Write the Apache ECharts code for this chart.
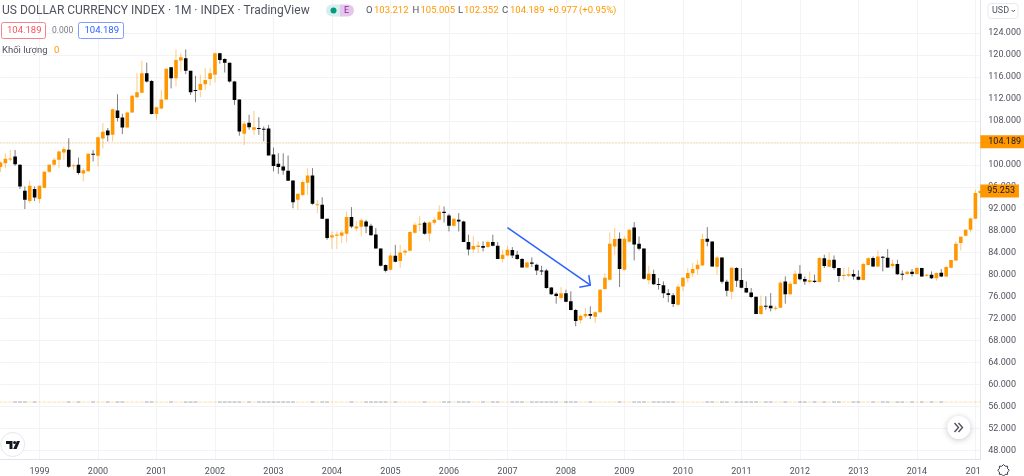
<!DOCTYPE html>
<html lang="en">
<head>
<meta charset="utf-8">
<title>US Dollar Currency Index</title>
<style>
html, body { margin: 0; padding: 0; background: #fff; overflow: hidden; }
#main { width: 1024px; height: 476px; }
</style>
<script src="https://cdn.jsdelivr.net/npm/echarts@6/dist/echarts.min.js"></script>
</head>
<body>
<div id="main"></div>
<script>
// monthly candles, May 1998 - Feb 2015
var opens = [
  99.58,100.3,101.0,101.5,100.0,95.3,93.4,95.6,93.76,95.82,
  98.73,100.0,100.9,102.25,102.73,99.8,100.0,98.43,98.85,102.0,
  101.64,104.8,106.25,105.45,109.9,108.6,106.8,109.5,112.3,113.1,
  116.67,115.27,109.27,110.25,111.9,117.76,115.76,118.97,119.4,117.1,
  113.6,113.64,114.67,115.6,116.4,120.3,119.27,118.6,115.15,111.9,
  105.64,107.64,106.36,106.7,106.55,106.6,101.88,100.18,99.7,98.9,
  97.15,93.64,94.5,96.73,98.06,92.7,92.72,90.18,86.78,87.09,
  87.09,87.45,90.48,88.42,88.72,89.69,88.9,87.33,84.78,81.75,
  80.9,83.45,82.48,84.06,84.36,87.63,89.09,89.45,87.51,89.45,
  90.0,91.45,90.78,88.9,90.0,89.69,85.93,84.6,85.03,85.21,
  85.03,85.93,85.27,82.84,83.51,84.48,83.63,82.84,81.33,82.24,
  81.81,80.78,80.78,77.69,76.54,75.75,76.6,75.15,73.57,71.69,
  72.42,72.84,72.36,73.15,77.39,79.09,85.15,86.54,80.9,85.99,
  88.6,85.63,84.78,78.97,80.12,78.3,78.06,76.6,76.24,74.54,
  77.87,79.33,80.24,80.97,81.69,86.54,86.06,81.45,83.15,78.73,
  76.9,81.21,79.03,77.57,76.78,75.99,72.85,74.36,74.36,73.87,
  74.0,78.78,76.42,78.3,80.18,79.21,78.66,78.9,78.66,82.97,
  81.45,82.72,81.21,79.81,79.81,80.12,79.63,79.03,81.75,83.03,
  81.51,83.27,83.09,81.57,81.94,80.18,80.12,80.54,80.12,81.21,
  79.81,79.99,79.33,80.36,79.69,81.27,82.6,85.75,87.09,88.18,
  90.18,94.85
];
var closes = [
  100.43,101.09,101.15,100.1,96.06,93.64,96.2,94.06,96.2,98.73,
  100.0,100.9,102.43,102.9,99.64,99.9,98.5,99.03,102.0,101.85,
  105.03,106.0,105.4,110.1,108.5,106.8,109.5,112.55,113.2,116.67,
  115.15,109.27,110.5,111.9,117.5,115.76,119.1,119.6,117.1,113.2,
  113.45,114.73,115.45,116.67,120.3,119.1,118.6,115.15,111.8,106.06,
  107.46,106.85,106.85,106.5,106.36,101.7,99.8,99.58,98.97,97.1,
  93.2,94.73,96.85,98.06,92.9,92.8,90.18,86.66,87.2,87.33,
  87.7,90.48,88.78,88.78,89.93,88.78,87.2,84.78,81.63,80.72,
  83.51,82.36,84.06,84.36,87.75,89.09,89.27,87.45,89.51,90.0,
  91.45,91.21,88.9,90.18,89.69,85.93,84.6,85.21,85.33,84.9,
  85.93,85.27,82.84,83.63,84.54,83.51,82.84,81.33,82.24,82.0,
  80.78,80.66,77.57,76.42,76.12,76.6,75.09,73.57,71.57,72.54,
  72.84,72.54,73.15,77.27,79.45,85.63,86.48,81.03,86.54,88.18,
  85.51,84.72,79.27,80.18,78.24,78.12,76.6,76.3,74.66,77.81,
  79.45,80.3,81.03,81.81,86.48,86.0,81.51,83.15,78.73,77.09,
  81.27,78.9,77.63,76.78,75.94,72.85,74.36,74.24,73.87,74.0,
  78.54,76.42,78.36,80.18,79.15,78.78,78.97,78.66,83.03,81.57,
  82.72,81.21,79.75,79.93,80.06,79.69,79.09,81.94,82.97,81.51,
  83.33,83.09,81.33,82.0,80.06,80.06,80.54,80.12,81.21,79.69,
  79.99,79.33,80.3,79.69,81.39,82.66,85.63,86.9,88.18,90.24,
  94.85,95.253
];
var lows = [
  98.7,99.4,100.6,99.8,95.6,91.95,93.0,93.4,93.0,95.7,
  98.5,99.7,99.4,100.9,99.4,99.1,98.2,97.0,98.7,100.6,
  99.7,102.97,104.25,104.25,107.9,105.6,106.67,109.4,112.1,113.03,
  114.97,109.15,108.2,110.1,111.8,113.9,114.25,117.0,116.5,112.7,
  111.4,112.3,113.64,114.4,115.0,118.4,116.8,114.97,110.9,105.3,
  103.6,106.4,105.45,105.45,104.25,101.7,98.8,98.36,98.2,97.1,
  92.1,91.8,94.25,94.5,92.73,91.2,90.1,86.36,84.66,84.66,
  85.75,85.9,88.48,87.9,86.96,87.57,87.09,84.78,81.5,80.42,
  80.78,82.24,81.21,83.45,84.24,87.45,87.87,87.27,86.06,89.09,
  89.87,89.51,87.87,88.78,87.87,85.93,83.51,83.93,83.93,84.24,
  84.84,85.15,82.84,82.24,83.33,83.03,82.72,81.27,81.21,81.39,
  79.93,79.93,77.45,76.3,74.72,75.45,74.97,73.51,70.6,71.09,
  72.12,71.93,71.21,73.15,77.27,78.96,83.63,77.75,80.78,85.87,
  82.6,84.42,79.09,78.24,78.12,77.27,75.75,74.97,74.12,74.24,
  76.97,78.6,79.57,80.0,81.63,85.15,81.39,80.0,78.36,76.06,
  75.57,77.75,77.51,76.66,75.75,72.85,72.72,73.63,73.33,73.51,
  74.0,74.72,76.3,78.12,78.97,78.18,78.48,78.48,78.6,81.21,
  81.33,80.9,78.66,78.97,79.57,79.09,78.97,78.97,81.63,81.39,
  81.39,80.6,81.21,81.21,79.94,78.97,79.94,79.69,80.0,79.63,
  79.57,79.21,78.9,79.57,79.63,81.15,82.54,84.42,86.97,87.69,
  90.12,94.6
];
var highs = [
  100.6,102.1,102.7,102.7,100.1,96.06,97.1,96.06,96.2,98.9,
  100.1,101.3,102.6,103.3,104.85,100.2,101.3,99.4,102.1,102.7,
  105.15,107.6,106.7,110.25,112.85,109.3,109.7,112.73,116.7,118.97,
  118.6,115.45,110.6,113.6,117.6,117.76,121.0,120.3,121.0,117.1,
  116.2,116.4,117.6,117.6,120.4,120.4,119.4,118.6,115.27,111.9,
  107.9,109.1,109.8,108.67,106.97,107.27,103.15,102.1,102.1,101.7,
  97.15,94.73,97.15,99.4,99.4,93.6,94.1,90.18,87.9,87.9,
  88.06,91.5,92.3,89.7,90.24,90.0,89.27,88.48,84.78,81.87,
  83.93,85.45,85.45,84.66,87.87,89.51,90.72,89.69,89.69,90.48,
  92.6,92.42,91.09,90.3,91.21,89.81,87.27,87.09,86.06,86.06,
  86.24,87.27,85.93,84.54,85.27,85.03,84.36,83.03,82.42,83.15,
  82.0,81.63,81.03,77.75,76.78,77.75,77.27,76.96,73.75,72.72,
  73.93,74.24,73.33,77.39,80.3,87.69,88.48,87.69,86.96,88.3,
  89.57,86.96,84.78,81.63,80.9,79.39,78.78,77.39,76.66,78.3,
  79.57,81.21,82.12,82.72,87.45,88.66,86.06,83.45,83.15,79.09,
  81.39,81.39,81.21,78.78,77.57,75.99,76.18,76.06,76.66,74.36,
  78.78,79.69,78.78,80.78,81.75,79.69,80.6,80.0,83.21,83.63,
  84.06,83.51,81.21,81.21,81.39,80.9,80.78,82.12,83.21,83.33,
  84.42,83.39,84.66,82.72,82.72,80.78,80.78,81.03,81.39,81.27,
  80.18,80.6,80.42,81.03,81.63,82.72,86.06,86.97,88.3,90.42,
  95.45,95.4
];
var priceTicks = [48,52,56,60,64,68,72,76,80,84,88,92,96,100,104,108,112,116,120,124];
var lastClose = 104.189;
var shownPrice = 95.253;
var volumeLevel = 56.82;   // the flat zero-volume strip sits here on the price scale
var arrowFrom = ['2007-01', 88.55];
var arrowTo = ['2008-06', 78.1];

var months = [];
for (var n = 0; n < opens.length; n++) {
  var mm = (n + 4) % 12 + 1;
  months.push((1998 + Math.floor((n + 4) / 12)) + '-' + (mm < 10 ? '0' + mm : mm));
}

var UP = '#ff9800', DOWN = '#000000';
var UP_WICK = 'rgba(255,152,0,0.5)', DOWN_WICK = 'rgba(0,0,0,0.5)';
var TEXT = '#50535e';
var FONT = 'Roboto, sans-serif';

function isJan(i) { return months[i].slice(5) === '01'; }

function renderCandle(params, api) {
  var i = api.value(0);
  var o = api.value(1), c = api.value(2);
  var x = api.coord([i, o])[0];
  var yO = api.coord([i, o])[1], yC = api.coord([i, c])[1];
  var yL = api.coord([i, api.value(3)])[1], yH = api.coord([i, api.value(4)])[1];
  var w = 3.6;
  var up = c >= o;
  var top = Math.min(yO, yC), h = Math.max(Math.abs(yO - yC), 1);
  return {
    type: 'group',
    children: [
      { type: 'line', shape: { x1: x, y1: yH, x2: x, y2: yL },
        style: { stroke: up ? UP_WICK : DOWN_WICK, lineWidth: 1 } },
      { type: 'rect', shape: { x: x - w / 2, y: top, width: w, height: h },
        style: { fill: up ? UP : DOWN } }
    ]
  };
}

function renderVolume(params, api) {
  var i = api.value(0);
  var p = api.coord([i, volumeLevel]);
  var seg = api.size([1, 0])[0] - 1;
  return {
    type: 'line',
    shape: { x1: p[0] - seg / 2, y1: p[1], x2: p[0] + seg / 2, y2: p[1] },
    style: { stroke: closes[i] >= opens[i] ? 'rgba(255,152,0,0.3)' : 'rgba(0,0,0,0.35)', lineWidth: 1 }
  };
}

function renderArrow(params, api) {
  var a = api.coord([months.indexOf(arrowFrom[0]), arrowFrom[1]]);
  var b = api.coord([months.indexOf(arrowTo[0]), arrowTo[1]]);
  var st = { stroke: '#2962ff', lineWidth: 1.5, fill: null };
  return {
    type: 'group',
    children: [
      { type: 'line', shape: { x1: a[0], y1: a[1], x2: b[0], y2: b[1] }, style: st },
      { type: 'polyline',
        shape: { points: [[b[0] - 1.5, b[1] - 10], [b[0], b[1]], [b[0] - 11, b[1] + 2.2]] },
        style: st }
    ]
  };
}

function txt(x, y, text, size, color) {
  return { type: 'text', z: 20,
    style: { x: x, y: y, text: text, fill: color, font: size + 'px ' + FONT, textVerticalAlign: 'middle' } };
}
function box(x, y, w, h, stroke, fill, r) {
  return { type: 'rect', z: 19, shape: { x: x, y: y, width: w, height: h, r: r },
    style: { stroke: stroke, fill: fill || '#fff', lineWidth: 1 } };
}

// gear outline bottom right
var gearPts = [];
for (var g = 0; g < 16; g++) {
  var ang = g / 16 * Math.PI * 2;
  var rad = g % 2 ? 4.4 : 5.8;
  gearPts.push([1003.5 + rad * Math.cos(ang), 470.3 + rad * Math.sin(ang)]);
}

var chartDom = document.getElementById('main');
var myChart = echarts.init(chartDom, null, { renderer: 'canvas' });

var option = {
  animation: false,
  backgroundColor: '#ffffff',
  textStyle: { fontFamily: FONT },
  grid: { left: 0.5, width: 979.9, top: 0, height: 460 },
  xAxis: {
    type: 'category',
    data: months,
    boundaryGap: false,
    axisLine: { lineStyle: { color: '#e0e3eb', width: 1 } },
    axisTick: { show: false },
    splitLine: { show: true, interval: function (i) { return isJan(i); }, lineStyle: { color: '#f3f3f5', width: 1 } },
    axisLabel: {
      interval: function (i) { return isJan(i); },
      formatter: function (v) {
        var y = v.slice(0, 4);
        return y === '2015' ? '201  ' : y;   // last year label is cut off by the price scale
      },
      color: TEXT, fontSize: 9, fontFamily: FONT, margin: 7.5, hideOverlap: false
    }
  },
  yAxis: {
    type: 'value',
    position: 'right',
    min: 46.36,
    max: 130,
    axisLine: { show: true, lineStyle: { color: '#e0e3eb', width: 1 } },
    axisTick: { show: false, customValues: priceTicks },
    splitLine: { show: true, lineStyle: { color: '#f3f3f5', width: 1 } },
    axisLabel: {
      customValues: priceTicks,
      formatter: function (v) { return v.toFixed(3); },
      color: TEXT, fontSize: 9, fontFamily: FONT, margin: 8, padding: [2, 0, 0, 0]
    }
  },
  series: [
    {
      type: 'custom',
      name: 'volume',
      clip: true,
      z: 2,
      renderItem: renderVolume,
      encode: { x: 0, y: 1 },
      data: months.map(function (m, i) { return [i, volumeLevel]; })
    },
    {
      type: 'custom',
      name: 'DXY',
      clip: true,
      z: 3,
      renderItem: renderCandle,
      encode: { x: 0, y: [1, 2, 3, 4] },
      data: months.map(function (m, i) { return [i, opens[i], closes[i], lows[i], highs[i]]; }),
      markLine: {
        silent: true,
        symbol: 'none',
        animation: false,
        z: 30,
        data: [
          { yAxis: lastClose,
            lineStyle: { color: 'rgba(255,152,0,0.55)', type: [1, 2], width: 1 },
            label: { show: true, position: 'end', distance: 0, formatter: lastClose.toFixed(3),
              backgroundColor: UP, color: '#131722', fontSize: 9, fontFamily: FONT,
              padding: [2, 5, 2, 8], lineHeight: 9 } },
          { yAxis: shownPrice,
            lineStyle: { color: 'transparent', width: 1 },
            label: { show: true, position: 'end', distance: 0, formatter: shownPrice.toFixed(3),
              backgroundColor: UP, color: '#131722', fontSize: 9, fontFamily: FONT,
              padding: [2, 4, 2, 7], lineHeight: 9 } }
        ]
      }
    },
    {
      type: 'custom',
      name: 'arrow',
      clip: true,
      z: 4,
      renderItem: renderArrow,
      encode: { x: 0, y: 1 },
      data: [[months.indexOf(arrowFrom[0]), arrowFrom[1]]]
    }
  ],
  graphic: [
    txt(2, 10.5, 'US DOLLAR CURRENCY INDEX \u00b7 1M \u00b7 INDEX \u00b7 TradingView', 12, TEXT),
    // status pill
    { type: 'rect', z: 19, shape: { x: 326, y: 4.5, width: 16, height: 12, r: [6, 0, 0, 6] }, style: { fill: '#d5f0ec' } },
    { type: 'rect', z: 19, shape: { x: 340, y: 4.5, width: 14, height: 12, r: [0, 6, 6, 0] }, style: { fill: '#e6c6ea' } },
    { type: 'circle', z: 20, shape: { cx: 333.5, cy: 10.5, r: 3 }, style: { fill: '#089981' } },
    txt(344, 10.5, 'E', 9, '#8e24aa'),
    txt(366, 10.5, 'O', 9.5, TEXT), txt(374, 10.5, '103.212', 9.5, UP),
    txt(412.5, 10.5, 'H', 9.5, TEXT), txt(420.5, 10.5, '105.005', 9.5, UP),
    txt(458, 10.5, 'L', 9.5, TEXT), txt(464, 10.5, '102.352', 9.5, UP),
    txt(502, 10.5, 'C', 9.5, TEXT), txt(510, 10.5, '104.189', 9.5, UP),
    txt(548, 10.5, '+0.977', 9.5, UP), txt(579, 10.5, '(+0.95%)', 9.5, UP),
    // price boxes
    box(1.5, 22.5, 44, 16, '#f7828d', '#fff', 2),
    txt(7, 30.8, '104.189', 9.5, '#f7525f'),
    txt(52, 30.8, '0.000', 8.5, '#787b86'),
    box(78.5, 22.5, 45, 16, '#7f9cff', '#fff', 2),
    txt(84.5, 30.8, '104.189', 9.5, '#2962ff'),
    txt(2, 50.5, 'Kh\u1ed1i l\u01b0\u1ee3ng', 9.5, TEXT),
    txt(54, 50.5, '0', 9.5, UP),
    // currency button
    box(988, 3.5, 30, 15, '#e8eaef', '#fff', 3),
    txt(992, 11, 'USD', 9, TEXT),
    { type: 'polyline', z: 20, shape: { points: [[1011.5, 10], [1013.2, 11.7], [1015, 10]] }, style: { stroke: TEXT, lineWidth: 1, fill: null } },
    // logo
    { type: 'circle', z: 19, shape: { cx: 12.7, cy: 444.5, r: 12 }, style: { fill: '#fff', stroke: '#e8e8ea', lineWidth: 1 } },
    { type: 'polygon', z: 20, shape: { points: [[6, 441], [12.5, 441], [12.5, 449], [9.5, 449], [9.5, 444], [6, 444]] }, style: { fill: '#131722' } },
    { type: 'circle', z: 20, shape: { cx: 14.6, cy: 442.6, r: 1.5 }, style: { fill: '#131722' } },
    { type: 'polygon', z: 20, shape: { points: [[20, 441], [16.9, 441], [13.2, 449], [16.6, 449]] }, style: { fill: '#131722' } },
    // scroll button
    { type: 'circle', z: 19, shape: { cx: 958.8, cy: 427.5, r: 11.5 },
      style: { fill: '#fff', shadowBlur: 6, shadowColor: 'rgba(0,0,0,0.22)', shadowOffsetY: 1 } },
    { type: 'polyline', z: 20, shape: { points: [[954.5, 423], [958.5, 427.5], [954.5, 432]] }, style: { stroke: TEXT, lineWidth: 1.4, fill: null } },
    { type: 'polyline', z: 20, shape: { points: [[958.5, 423], [962.5, 427.5], [958.5, 432]] }, style: { stroke: TEXT, lineWidth: 1.4, fill: null } },
    // settings gear
    { type: 'polygon', z: 20, shape: { points: gearPts }, style: { stroke: '#3c3f4a', lineWidth: 1, fill: '#fff' } }
  ]
};

myChart.setOption(option);
</script>
</body>
</html>
